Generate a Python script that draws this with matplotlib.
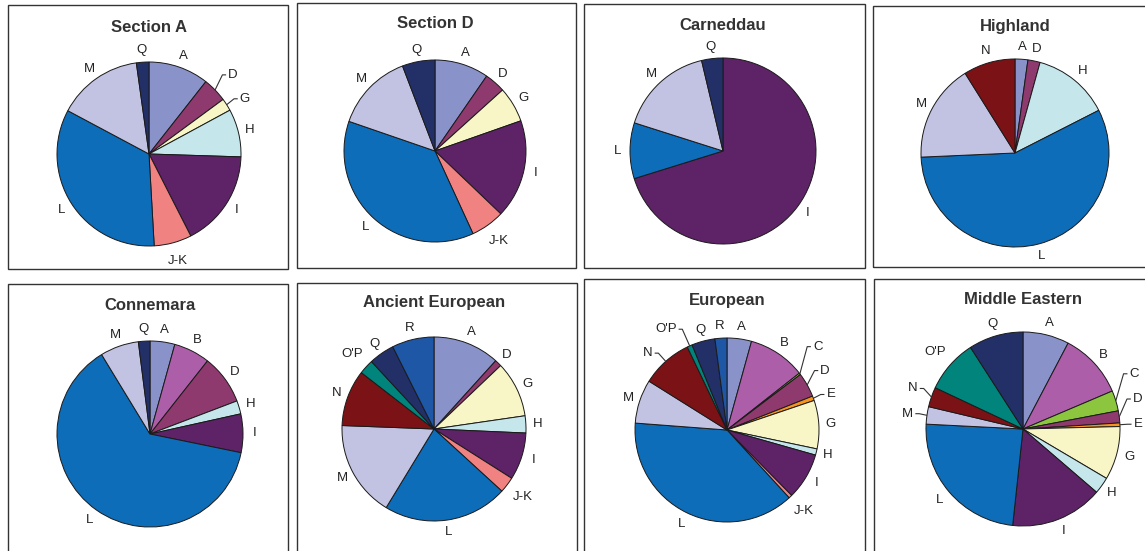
import numpy as np
import matplotlib
matplotlib.use("Agg")
import matplotlib.pyplot as plt
from matplotlib.patches import Rectangle

plt.rcParams["font.family"] = ["Liberation Sans", "DejaVu Sans"]

# haplogroup share (%) per breed, clockwise from 12 o'clock
section_a_labels = ["A", "D", "G", "H", "I", "J-K", "L", "M", "Q"]
section_a_values = [10.6, 4.3, 2.2, 8.4, 17.0, 6.6, 33.7, 15.0, 2.2]

section_d_labels = ["A", "D", "G", "I", "J-K", "L", "M", "Q"]
section_d_values = [9.6, 3.7, 6.3, 17.5, 6.0, 37.1, 13.9, 5.8]

carneddau_labels = ["I", "L", "M", "Q"]
carneddau_values = [70.2, 9.7, 16.4, 3.7]

highland_labels = ["A", "D", "H", "L", "M", "N"]
highland_values = [2.2, 2.1, 13.2, 56.8, 16.8, 8.9]

connemara_labels = ["A", "B", "D", "H", "I", "L", "M", "Q"]
connemara_values = [4.3, 6.3, 8.6, 2.3, 6.7, 63.0, 6.7, 2.0]

ancient_labels = ["A", "D", "G", "H", "I", "J-K", "L", "M", "N", "O'P", "Q", "R"]
ancient_values = [11.7, 1.2, 9.8, 3.0, 8.3, 2.8, 21.9, 16.9, 9.9, 2.6, 4.5, 7.4]

european_labels = ["A", "B", "C", "D", "E", "G", "H", "I", "J-K", "L", "M", "N", "O'P", "Q", "R"]
european_values = [4.3, 10.1, 0.3, 4.3, 0.8, 8.5, 1.1, 8.2, 0.6, 38.0, 7.7, 9.0, 0.9, 4.1, 2.1]

mideast_labels = ["A", "B", "C", "D", "E", "G", "H", "I", "L", "M", "N", "O'P", "Q"]
mideast_values = [7.7, 10.9, 3.4, 2.0, 0.6, 8.9, 2.8, 15.4, 24.1, 2.9, 3.3, 8.9, 9.1]

colours = {
    "A": "#8a93c9", "B": "#ad5ea8", "C": "#8cc63f", "D": "#8e3a6e",
    "E": "#f7941d", "G": "#f8f6c6", "H": "#c5e7ec", "I": "#5e2266",
    "J-K": "#f08282", "L": "#0e6db8", "M": "#c2c2e2", "N": "#7b1216",
    "O'P": "#00847c", "Q": "#233068", "R": "#1e57a6",
}

W, H = 1145, 551
TEXT = "#222222"


def leader_labels(ax, cx, cy, radius, items):
    """Small slices get an elbow line; labels on one side are spread apart vertically."""
    for side in (1, -1):
        group = [it for it in items if (it[1] >= 0) == (side > 0)]
        group.sort(key=lambda it: it[2])
        prev = None
        for lab, ux, uy in group:
            y = 1.12 * radius * uy
            if prev is not None:
                y = max(y, prev + 0.26 * radius)
            prev = y
            ex, ey = radius * ux, radius * uy
            bx = ex + side * 0.08 * radius
            tx = bx + side * 0.04 * radius
            ax.plot([cx + ex, cx + bx, cx + tx], [cy + ey, cy + y, cy + y],
                    color="#333333", lw=0.8, solid_capstyle="butt")
            ax.text(cx + tx + side * 2, cy + y, lab, fontsize=9.5, color=TEXT,
                    ha="left" if side > 0 else "right", va="center")


def draw_panel(fig, box, title, labels, values, centre, radius, title_y, leaders=()):
    """One bordered pie panel; box and centre are given in figure pixels."""
    left, top, right, bottom = box
    w, h = right - left, bottom - top
    ax = fig.add_axes([left / W, 1 - bottom / H, w / W, h / H])

    cx, cy = centre[0] - left, bottom - centre[1]
    wedges, _ = ax.pie(values, colors=[colours[l] for l in labels],
                       startangle=90, counterclock=False,
                       center=(cx, cy), radius=radius,
                       wedgeprops=dict(linewidth=0.7, edgecolor="#1a1a1a"))

    pending = []
    for wedge, lab in zip(wedges, labels):
        theta = np.deg2rad((wedge.theta1 + wedge.theta2) / 2)
        ux, uy = np.cos(theta), np.sin(theta)
        if lab in leaders:
            pending.append((lab, ux, uy))
        else:
            d = radius * (1.13 + 0.04 * (len(lab) - 1))
            ax.text(cx + d * ux, cy + d * uy, lab, fontsize=9.5, color=TEXT,
                    ha="center", va="center")
    leader_labels(ax, cx, cy, radius, pending)

    ax.text(centre[0] - left, bottom - title_y, title, fontsize=12,
            fontweight="bold", color="#333333", ha="center", va="center")

    ax.set_xlim(0, w)
    ax.set_ylim(0, h)
    ax.set_aspect("equal")
    ax.axis("off")
    ax.add_patch(Rectangle((0, 0), 1, 1, transform=ax.transAxes, fill=False,
                           edgecolor="#333333", lw=1.0, clip_on=False))


fig = plt.figure(figsize=(W / 100, H / 100), dpi=100)
fig.patch.set_facecolor("white")

draw_panel(fig, (8, 5, 288, 269), "Section A", section_a_labels, section_a_values,
           (149, 154), 92, 27, leaders=("D", "G"))
draw_panel(fig, (297, 3, 576, 268), "Section D", section_d_labels, section_d_values,
           (435, 151), 91, 23)
draw_panel(fig, (584, 4, 865, 268), "Carneddau", carneddau_labels, carneddau_values,
           (723, 151), 93, 25)
draw_panel(fig, (873, 6, 1170, 267), "Highland", highland_labels, highland_values,
           (1015, 153), 94, 27)
draw_panel(fig, (8, 284, 288, 570), "Connemara", connemara_labels, connemara_values,
           (150, 434), 93, 305)
draw_panel(fig, (297, 283, 577, 570), "Ancient European", ancient_labels, ancient_values,
           (434, 429), 92, 302)
draw_panel(fig, (584, 279, 865, 570), "European", european_labels, european_values,
           (727, 430), 92, 300, leaders=("C", "D", "E", "N", "O'P"))
draw_panel(fig, (874, 279, 1170, 570), "Middle Eastern", mideast_labels, mideast_values,
           (1023, 429), 97, 299, leaders=("C", "D", "E", "M", "N"))

fig.savefig("out.png", dpi=100, facecolor="white")
